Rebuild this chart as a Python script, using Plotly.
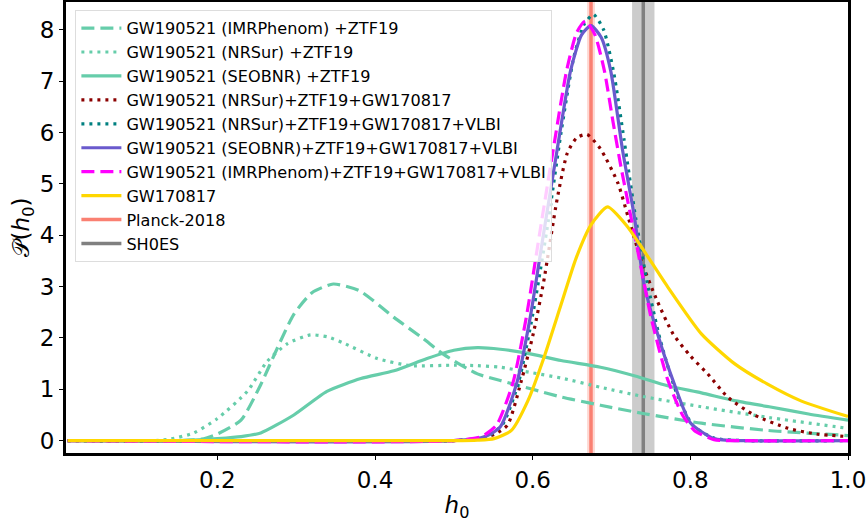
import plotly.graph_objects as go

# --- data ---
x_imr_ztf = [0.01, 0.15, 0.18, 0.2, 0.23, 0.255, 0.276, 0.297, 0.32, 0.347, 0.38, 0.424, 0.46, 0.487,
             0.53, 0.559, 0.6, 0.636, 0.686, 0.74, 0.814, 0.898, 1.0]
y_imr_ztf = [0, 0, 0.03, 0.13, 0.4, 1.09, 1.8, 2.46, 2.88, 3.05, 2.92, 2.4, 2.0, 1.68,
             1.3, 1.17, 1.0, 0.85, 0.69, 0.53, 0.34, 0.2, 0.1]

x_nrsur_ztf = [0.01, 0.12, 0.14, 0.17, 0.2, 0.238, 0.263, 0.289, 0.318, 0.34, 0.36, 0.403, 0.445,
               0.5, 0.53, 0.559, 0.6, 0.636, 0.686, 0.74, 0.814, 0.9, 1.0]
y_nrsur_ztf = [0, 0, 0.03, 0.15, 0.43, 0.96, 1.54, 1.89, 2.06, 2.02, 1.9, 1.6, 1.46,
               1.47, 1.46, 1.43, 1.32, 1.22, 1.04, 0.86, 0.66, 0.45, 0.24]

x_seob_ztf = [0.01, 0.14, 0.17, 0.2, 0.23, 0.255, 0.297, 0.339, 0.382, 0.424, 0.466, 0.5, 0.53,
              0.559, 0.594, 0.636, 0.686, 0.73, 0.771, 0.814, 0.856, 0.9, 0.95, 1.0]
y_seob_ztf = [0, 0, 0.01, 0.04, 0.08, 0.15, 0.5, 0.96, 1.21, 1.36, 1.6, 1.76, 1.81,
              1.78, 1.7, 1.56, 1.43, 1.26, 1.07, 0.93, 0.78, 0.66, 0.52, 0.4]

x_nrsur_bns = [0.01, 0.5, 0.53, 0.551, 0.568, 0.585, 0.601, 0.614, 0.631, 0.644, 0.656, 0.669, 0.686,
               0.708, 0.721, 0.739, 0.758, 0.778, 0.8, 0.822, 0.848, 0.881, 0.924, 0.96, 1.0]
y_nrsur_bns = [0, 0, 0.04, 0.12, 0.3, 1.13, 2.1, 3.1, 4.7, 5.6, 5.9, 5.96, 5.68,
               5.02, 4.36, 3.45, 2.72, 2.08, 1.65, 1.3, 0.84, 0.5, 0.24, 0.13, 0.08]

x_nrsur_vlbi = [0.01, 0.5, 0.54, 0.562, 0.582, 0.6, 0.618, 0.636, 0.652, 0.665, 0.677, 0.69, 0.703,
                0.716, 0.731, 0.745, 0.762, 0.782, 0.803, 0.83, 0.87, 1.0]
y_nrsur_vlbi = [0, 0, 0.06, 0.32, 1.13, 2.45, 4.1, 6.0, 7.45, 8.1, 8.3, 8.0, 7.15,
                5.85, 4.3, 3.1, 1.95, 0.95, 0.3, 0.05, 0, 0]

x_seob_vlbi = [0.01, 0.5, 0.54, 0.559, 0.58, 0.597, 0.614, 0.631, 0.648, 0.662, 0.674, 0.687, 0.699,
               0.714, 0.729, 0.741, 0.758, 0.779, 0.8, 0.83, 0.87, 1.0]
y_seob_vlbi = [0, 0, 0.08, 0.27, 1.13, 2.41, 4.05, 5.66, 7.2, 7.9, 8.08, 7.85, 7.2,
               5.66, 4.36, 3.07, 2.1, 1.13, 0.35, 0.04, 0, 0]

x_imr_vlbi = [0.01, 0.5, 0.535, 0.554, 0.575, 0.592, 0.609, 0.626, 0.643, 0.656, 0.667, 0.679, 0.691,
              0.702, 0.712, 0.733, 0.75, 0.771, 0.79, 0.805, 0.83, 0.87, 1.0]
y_imr_vlbi = [0, 0, 0.08, 0.3, 1.13, 2.41, 4.05, 5.66, 7.2, 7.95, 8.17, 7.9, 7.2,
              6.2, 5.33, 3.72, 2.41, 1.2, 0.5, 0.2, 0.02, 0, 0]

x_gw170817 = [0.01, 0.5, 0.53, 0.551, 0.573, 0.594, 0.615, 0.636, 0.655, 0.674, 0.695, 0.72, 0.741,
              0.771, 0.814, 0.856, 0.898, 0.941, 1.0]
y_gw170817 = [0, 0, 0.01, 0.04, 0.2, 0.78, 1.65, 2.65, 3.55, 4.2, 4.55, 4.17, 3.7,
              3.0, 2.08, 1.5, 1.1, 0.77, 0.47]

planck_h0, planck_err = 0.674, 0.005
shoes_h0, shoes_err = 0.7403, 0.0142

x_ticks = [0.2, 0.4, 0.6, 0.8, 1.0]
y_ticks = [0, 1, 2, 3, 4, 5, 6, 7, 8]

aqua = '#66CDAA'
dot_style = '3px,5px'
dash_style = '13px,6px'

series = [  # name, x, y, colour, dash
    ('GW190521 (IMRPhenom) +ZTF19', x_imr_ztf, y_imr_ztf, aqua, dash_style),
    ('GW190521 (NRSur) +ZTF19', x_nrsur_ztf, y_nrsur_ztf, aqua, dot_style),
    ('GW190521 (SEOBNR) +ZTF19', x_seob_ztf, y_seob_ztf, aqua, 'solid'),
    ('GW190521 (NRSur)+ZTF19+GW170817', x_nrsur_bns, y_nrsur_bns, '#8B0000', dot_style),
    ('GW190521 (NRSur)+ZTF19+GW170817+VLBI', x_nrsur_vlbi, y_nrsur_vlbi, '#008080', dot_style),
    ('GW190521 (SEOBNR)+ZTF19+GW170817+VLBI', x_seob_vlbi, y_seob_vlbi, '#6A5ACD', 'solid'),
    ('GW190521 (IMRPhenom)+ZTF19+GW170817+VLBI', x_imr_vlbi, y_imr_vlbi, '#FF00FF', dash_style),
    ('GW170817', x_gw170817, y_gw170817, '#FFD700', 'solid'),
]

fig = go.Figure()

# measurement bands
fig.add_vrect(x0=planck_h0 - planck_err, x1=planck_h0 + planck_err, fillcolor='#FA8072',
              opacity=0.3, line_width=0, layer='below')
fig.add_vrect(x0=shoes_h0 - shoes_err, x1=shoes_h0 + shoes_err, fillcolor='#808080',
              opacity=0.4, line_width=0, layer='below')

fig.add_trace(go.Scatter(x=[planck_h0, planck_h0], y=[-1, 10], mode='lines', name='Planck-2018',
                         line=dict(color='#FA8072', width=3.5), legendrank=1009))
fig.add_trace(go.Scatter(x=[shoes_h0, shoes_h0], y=[-1, 10], mode='lines', name='SH0ES',
                         line=dict(color='#808080', width=3.5), legendrank=1010))

for i, (name, xs, ys, col, dash) in enumerate(series):
    fig.add_trace(go.Scatter(x=xs, y=ys, mode='lines', name=name, line_shape='spline',
                             line=dict(color=col, width=3.2, dash=dash, smoothing=0.6),
                             legendrank=1000 + i))

axis_common = dict(showline=True, linewidth=3, linecolor='black', mirror=True, ticks='outside',
                   ticklen=4, tickwidth=1.2, tickcolor='black', showgrid=False, zeroline=False,
                   automargin=False, tickfont=dict(size=23, color='black'))

fig.update_xaxes(range=[0.008, 1.0], tickvals=x_ticks, ticktext=['0.2', '0.4', '0.6', '0.8', '1.0'],
                 title=dict(text='<i>h</i><sub>0</sub>', font=dict(size=23, color='black'), standoff=6),
                 **axis_common)
fig.update_yaxes(range=[-0.24, 8.54], tickvals=y_ticks,
                 title=dict(text='𝒫(<i>h</i><sub>0</sub>)', font=dict(size=23, color='black'), standoff=4),
                 **axis_common)

fig.update_layout(
    width=868, height=527,
    margin=dict(l=66, r=20, t=2, b=74),
    plot_bgcolor='white', paper_bgcolor='white',
    font=dict(family='DejaVu Sans', color='black'),
    legend=dict(x=0.012, y=0.982, xanchor='left', yanchor='top', bgcolor='rgba(255,255,255,0.8)',
                bordercolor='#DDDDDD', borderwidth=1, font=dict(size=16.1), itemwidth=40,
                traceorder='normal'),
)

# drop the page's default body margin so the figure sits at the window's corner
fig.write_html("out.html", config={'displayModeBar': False},
               post_script="document.body.style.margin='0';document.body.style.overflow='hidden';")
